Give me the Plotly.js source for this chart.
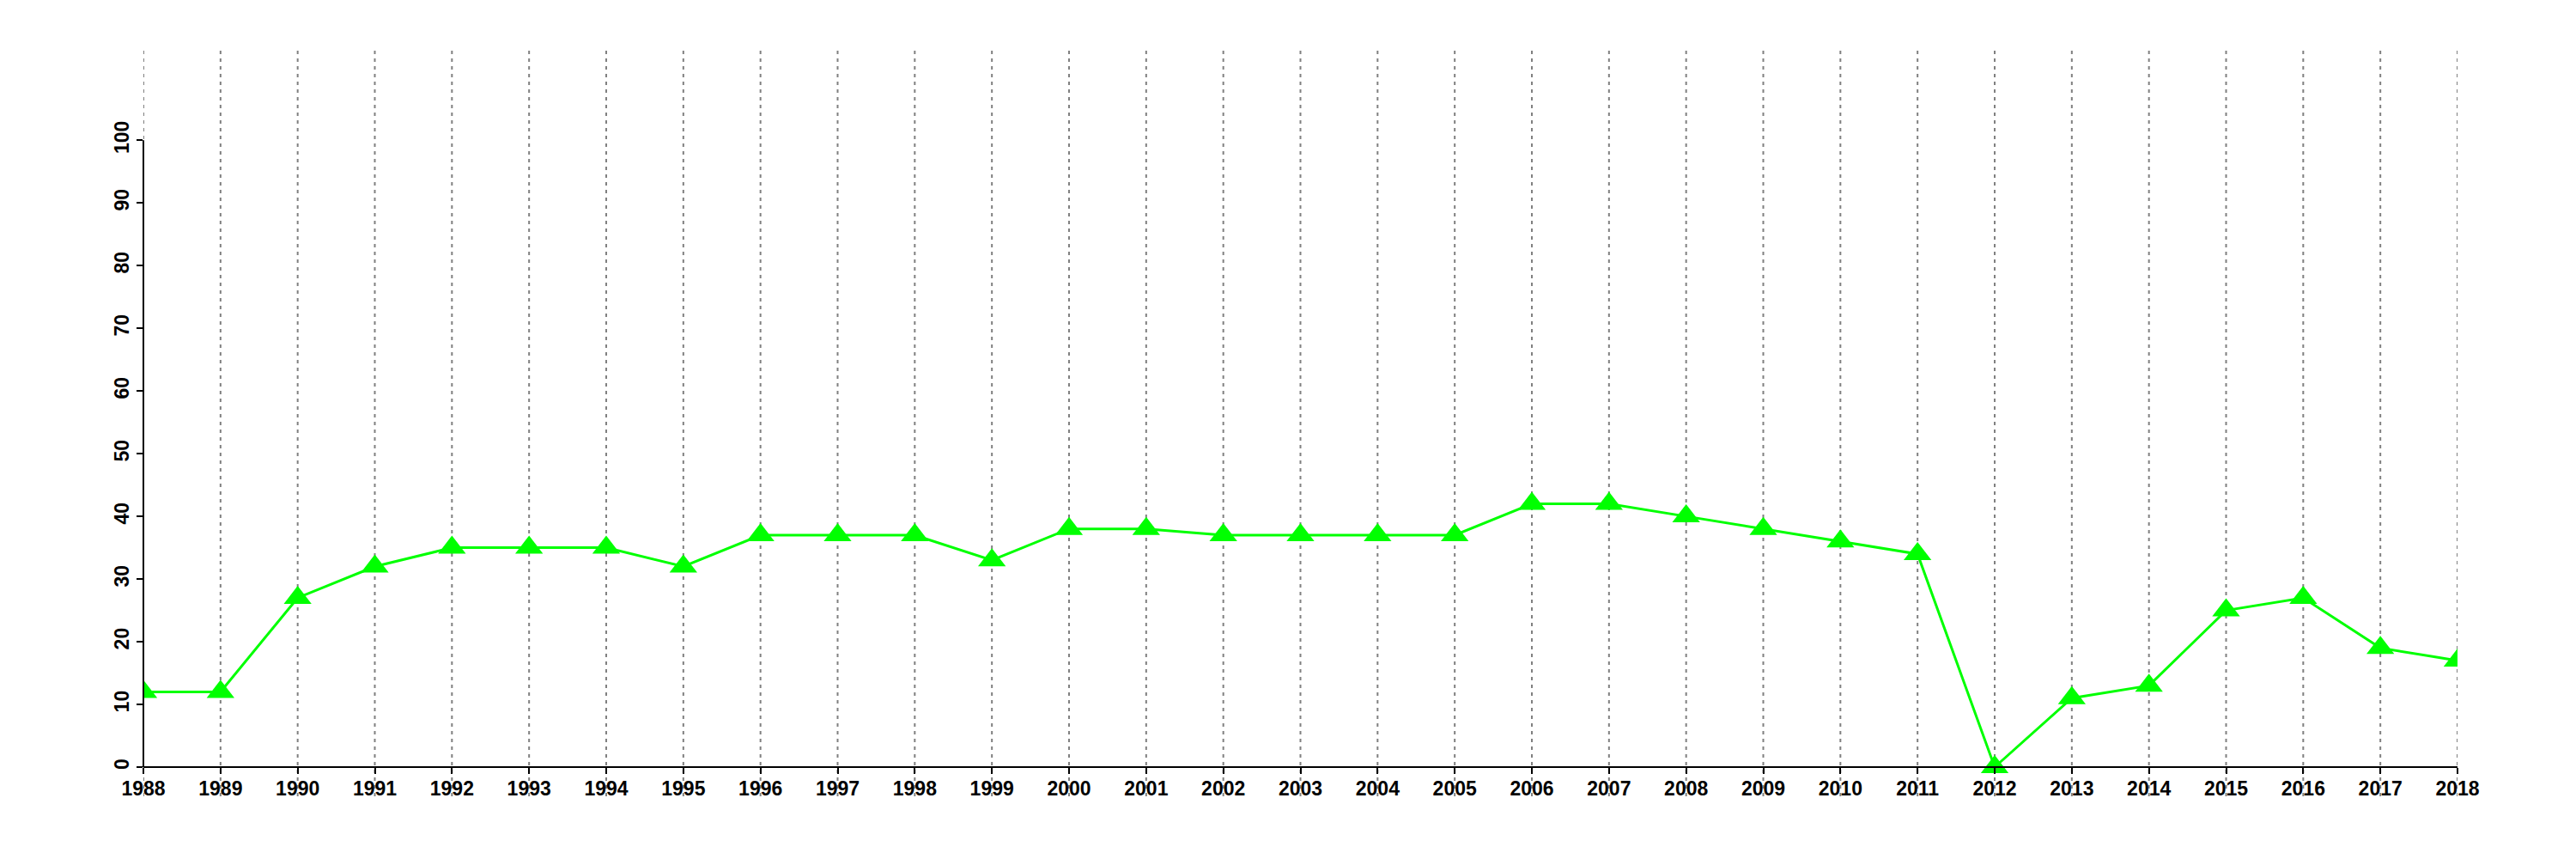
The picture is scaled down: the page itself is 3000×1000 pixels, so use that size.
<!DOCTYPE html>
<html>
<head>
<meta charset="utf-8">
<script src="https://cdn.plot.ly/plotly-3.0.1.min.js"></script>
<style>html,body{margin:0;padding:0;background:#fff;}#chart{width:3000px;height:1000px;}</style>
</head>
<body>
<div id="chart"></div>
<script>
const years = [1988,1989,1990,1991,1992,1993,1994,1995,1996,1997,1998,1999,2000,2001,2002,2003,2004,2005,2006,2007,2008,2009,2010,2011,2012,2013,2014,2015,2016,2017,2018];
const values = [12,12,27,32,35,35,35,32,37,37,37,33,38,38,37,37,37,37,42,42,40,38,36,34,0,11,13,25,27,19,17];
const yTicks = [0,10,20,30,40,50,60,70,80,90,100];
const xTickLabels = years.map(String);
const yTickLabels = yTicks.map(String);

const tickFont = {family: 'Liberation Sans, Arial, sans-serif', size: 23, color: '#000', weight: 'bold'};

const trace = {
  x: years, y: values, type: 'scatter', mode: 'lines+markers',
  line: {color: '#00FF00', width: 3},
  marker: {symbol: 'triangle-up', size: 28, color: '#00FF00'},
  hoverinfo: 'x+y', showlegend: false
};

const gridShapes = years.map(function (yr) {
  return {
    type: 'line', xref: 'x', yref: 'paper',
    x0: yr, x1: yr, y0: 0, y1: 1,
    line: {color: '#808080', width: 2, dash: '4px,5px'}, layer: 'below'
  };
});

const layout = {
  width: 3000, height: 1000,
  margin: {l: 167, r: 138, t: 59, b: 73, pad: 0},
  paper_bgcolor: '#fff', plot_bgcolor: '#fff',
  showlegend: false,
  xaxis: {
    range: [years[0], years[years.length-1]],
    tickvals: years, ticktext: xTickLabels,
    anchor: 'free', position: 34/868,
    showline: true, linecolor: '#000', linewidth: 2,
    ticks: 'outside', ticklen: 7, tickwidth: 2, tickcolor: '#000',
    tickfont: tickFont, tickangle: 0, ticklabelstandoff: -3,
    showgrid: false, zeroline: false
  },
  yaxis: {
    range: [-34/7.297, (893-59)/7.297],
    tickvals: yTicks, ticktext: yTickLabels,
    showline: false,
    ticks: 'outside', ticklen: 7, tickwidth: 2, tickcolor: '#000',
    tickfont: tickFont, tickangle: -90,
    showgrid: false, zeroline: false
  },
  shapes: gridShapes.concat([{
    type: 'line', xref: 'paper', yref: 'y',
    x0: 0, x1: 0, y0: yTicks[0], y1: yTicks[yTicks.length-1],
    line: {color: '#000', width: 2}, layer: 'above'
  }])
};

Plotly.newPlot('chart', [trace], layout, {displayModeBar: false, staticPlot: true});
</script>
</body>
</html>
